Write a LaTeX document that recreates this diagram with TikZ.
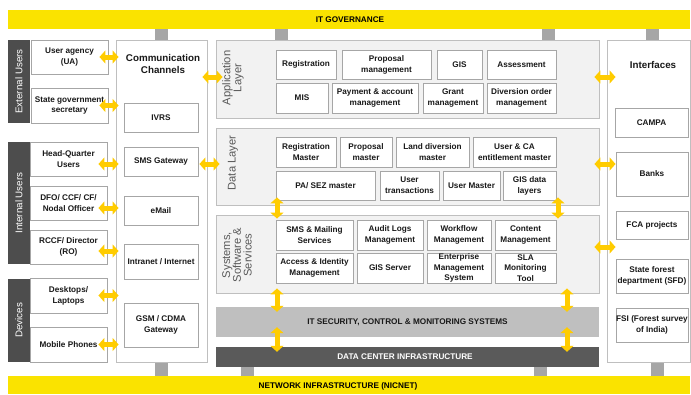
\documentclass[tikz,border=0pt]{standalone}
\usepackage{fontspec}
\setmainfont{Liberation Sans}
\usetikzlibrary{fit,arrows.meta}
\definecolor{ybar}{HTML}{FAE300}
\definecolor{gold}{HTML}{FFCC00}
\definecolor{stubc}{HTML}{A6A6A6}
\definecolor{darkc}{HTML}{4D4D4D}
\definecolor{dcbar}{HTML}{5A5A5A}
\definecolor{itbar}{HTML}{BFBFBF}
\definecolor{panelc}{HTML}{F2F2F2}
\definecolor{pline}{HTML}{BFBFBF}
\definecolor{bline}{HTML}{A6A6A6}
\definecolor{ltext}{HTML}{595959}
\tikzset{
  wbox/.style={draw=bline, fill=white, line width=0.9pt, inner sep=0pt},
  obox/.style={draw=pline, fill=white, line width=0.9pt, inner sep=0pt},
  pbox/.style={draw=pline, fill=panelc, line width=0.9pt, inner sep=0pt},
  solid box/.style={draw=none, fill=#1, inner sep=0pt},
  btxt/.style={font=\fontsize{8.2}{10.8}\selectfont\bfseries, align=center, inner sep=0pt, text=black!90},
  htxt/.style={font=\fontsize{9.8}{12}\selectfont\bfseries, align=center, inner sep=0pt, text=black!90},
  bartxt/.style={font=\fontsize{8.2}{9}\selectfont\bfseries, inner sep=0pt},
  sidetxt/.style={font=\fontsize{9.8}{11}\selectfont, rotate=90, text=white, inner sep=0pt},
  laytxt/.style={font=\fontsize{11.2}{10.8}\selectfont, rotate=90, align=center, text=ltext, inner sep=0pt},
  ya/.style={draw=gold, line width=5pt, {Triangle[width=13pt,length=6pt]}-{Triangle[width=13pt,length=6pt]}}
}
\newcommand\bx[5][wbox]{\node[#1, fit={(#3) (#4)}] (#2) {}; \node[btxt] (#2t) at (#2.center) {#5};}
\newcommand\fillrect[4]{\node[solid box=#4, fit={(#2) (#3)}] (#1) {};}
\begin{document}
\begin{tikzpicture}[x=1pt,y=-1pt]
\useasboundingbox (0,0) rectangle (691,394);
\fill[white] (0,0) rectangle (691,394);
% stubs
\fillrect{st1}{155,29}{168,44}{stubc}
\fillrect{st2}{275,29}{288,44}{stubc}
\fillrect{st3}{542,29}{555,44}{stubc}
\fillrect{st4}{646,29}{659,44}{stubc}
\fillrect{sb1}{155,361}{168,376}{stubc}
\fillrect{sb2}{241,361}{254,376}{stubc}
\fillrect{sb3}{534,361}{547,376}{stubc}
\fillrect{sb4}{651,361}{664,376}{stubc}
% yellow bars
\fillrect{gov}{8,10}{690,29}{ybar}
\node[bartxt] (govt) at (350,19.5) {IT GOVERNANCE};
\fillrect{net}{8,376}{690,394}{ybar}
\node[bartxt] (nett) at (338,386) {NETWORK INFRASTRUCTURE (NICNET)};
% left side bars
\fillrect{ext}{8,40}{29.5,123}{darkc}
\node[sidetxt] (extt) at (ext.center) {External Users};
\fillrect{int}{8,142}{29.5,264}{darkc}
\node[sidetxt] (intt) at (int.center) {Internal Users};
\fillrect{dev}{8,279}{29.5,362}{darkc}
\node[sidetxt] (devt) at (dev.center) {Devices};
% left boxes
\bx{ua}{31,40}{108,74}{User agency\\(UA)}
\bx{sgs}{31,88}{108,123}{State government\\secretary}
\bx{hq}{30,142}{107,176}{Head-Quarter\\Users}
\bx{dfo}{30,186}{107,220}{DFO/ CCF/ CF/\\Nodal Officer}
\bx{rccf}{30,230}{107,264}{RCCF/ Director\\(RO)}
\bx{desk}{30,278}{107,313}{Desktops/\\Laptops}
\bx{mob}{30,327}{107,362}{Mobile Phones}
% communication channels
\node[obox, fit={(116,40) (207,362)}] (comm) {};
\node[htxt] (commt) at (163,64) {Communication\\Channels};
\bx{ivrs}{124,103}{198,132}{IVRS}
\bx{smsg}{124,147}{198,176}{SMS Gateway}
\bx{email}{124,196}{198,225}{eMail}
\bx{intr}{124,244}{198,279}{Intranet / Internet}
\bx{gsm}{124,303}{198,347}{GSM / CDMA\\Gateway}
% application layer
\node[pbox, fit={(216,40) (599,118)}] (app) {};
\node[laytxt] (appt) at (233,78) {Application\\Layer};
\bx{reg}{276,50}{336,79}{Registration}
\bx{prop}{342,50}{431,79}{Proposal\\management}
\bx{gis}{437,50}{482,79}{GIS}
\bx{assess}{487,50}{556,79}{Assessment}
\bx{mis}{276,83}{328,113}{MIS}
\bx{pay}{332,83}{418,113}{Payment \& account\\management}
\bx{grant}{423,83}{483,113}{Grant\\management}
\bx{divo}{487,83}{556,113}{Diversion order\\management}
% data layer
\node[pbox, fit={(216,128) (599,205)}] (data) {};
\node[laytxt] (datat) at (233,163) {Data Layer};
\bx{regm}{276,137}{336,167}{Registration\\Master}
\bx{propm}{340,137}{392,167}{Proposal\\master}
\bx{land}{396,137}{469,167}{Land diversion\\master}
\bx{uca}{473,137}{556,167}{User \& CA\\entitlement master}
\bx{pasez}{276,171}{375,200}{PA/ SEZ master}
\bx{utr}{380,171}{439,200}{User\\transactions}
\bx{umas}{443,171}{500,200}{User Master}
\bx{gisd}{503,171}{556,200}{GIS data\\layers}
% systems
\node[pbox, fit={(216,215) (599,293)}] (sys) {};
\node[laytxt] (syst) at (237,255) {Systems,\\Software \&\\Services};
\bx{smsm}{276,220}{353,250}{SMS \& Mailing\\Services}
\bx{audit}{357,220}{423,250}{Audit Logs\\Management}
\bx{wf}{427,220}{491,250}{Workflow\\Management}
\bx{cont}{495,220}{556,250}{Content\\Management}
\bx{aim}{276,253}{353,283}{Access \& Identity\\Management}
\bx{gsrv}{357,253}{423,283}{GIS Server}
\bx{ems}{427,253}{491,283}{Enterprise\\Management\\System}
\bx{sla}{495,253}{556,283}{SLA\\Monitoring\\Tool}
% it security and data center
\fillrect{it}{216,307}{599,337}{itbar}
\node[bartxt, text=black!90] (itt) at (it.center) {IT SECURITY, CONTROL \& MONITORING SYSTEMS};
\fillrect{dc}{216,347}{599,367}{dcbar}
\node[bartxt, text=white] (dct) at (405,357) {DATA CENTER INFRASTRUCTURE};
% interfaces
\node[obox, fit={(607,40) (690,362)}] (intf) {};
\node[htxt] (intft) at (653,65) {Interfaces};
\bx{campa}{615,108}{688,137}{CAMPA}
\bx{banks}{616,152}{688,196}{Banks}
\bx{fca}{616,211}{688,239}{FCA projects}
\bx{sfd}{616,259}{688,293}{State forest\\department (SFD)}
\bx{fsi}{616,308}{688,342}{FSI (Forest survey\\of India)}
% arrows left
\draw[ya] ([xshift=-9pt]ua.east) -- ([xshift=3pt]ua.east -| comm.west);
\draw[ya] ([xshift=-9pt]sgs.east) -- ([xshift=3pt]sgs.east -| comm.west);
\draw[ya] ([xshift=-9pt,yshift=-5pt]hq.east) -- ([xshift=3pt,yshift=-5pt]hq.east -| comm.west);
\draw[ya] ([xshift=-9pt,yshift=-5pt]dfo.east) -- ([xshift=3pt,yshift=-5pt]dfo.east -| comm.west);
\draw[ya] ([xshift=-9pt,yshift=-4pt]rccf.east) -- ([xshift=3pt,yshift=-4pt]rccf.east -| comm.west);
\draw[ya] ([xshift=-9pt]desk.east) -- ([xshift=3pt]desk.east -| comm.west);
\draw[ya] ([xshift=-9pt]mob.east) -- ([xshift=3pt]mob.east -| comm.west);
% comm to layers
\draw[ya] ([xshift=-5pt,yshift=2pt]comm.east |- app.west) -- ([xshift=7pt,yshift=2pt]app.west);
\draw[ya] ([xshift=-8pt,yshift=2.5pt]comm.east |- data.west) -- ([xshift=4pt,yshift=2.5pt]data.west);
% layers to interfaces
\draw[ya] ([xshift=-5pt,yshift=2pt]app.east) -- ([xshift=9pt,yshift=2pt]app.east -| intf.west);
\draw[ya] ([xshift=-5pt,yshift=2.5pt]data.east) -- ([xshift=9pt,yshift=2.5pt]data.east -| intf.west);
\draw[ya] ([xshift=-5pt,yshift=7pt]sys.east) -- ([xshift=9pt,yshift=7pt]sys.east -| intf.west);
% vertical arrows
\coordinate (vl) at (277,0);
\coordinate (vr) at (558,0);
\coordinate (vr2) at (567,0);
\draw[ya] ([yshift=8pt]vl |- data.south) -- ([yshift=-4pt]vl |- sys.north);
\draw[ya] ([yshift=8pt]vr |- data.south) -- ([yshift=-4pt]vr |- sys.north);
\draw[ya] ([yshift=5pt]vl |- sys.south) -- ([yshift=-5pt]vl |- it.north);
\draw[ya] ([yshift=5pt]vr2 |- sys.south) -- ([yshift=-5pt]vr2 |- it.north);
\draw[ya] ([yshift=10pt]vl |- it.south) -- ([yshift=-5pt]vl |- dc.north);
\draw[ya] ([yshift=10pt]vr2 |- it.south) -- ([yshift=-5pt]vr2 |- dc.north);
\end{tikzpicture}
\end{document}
